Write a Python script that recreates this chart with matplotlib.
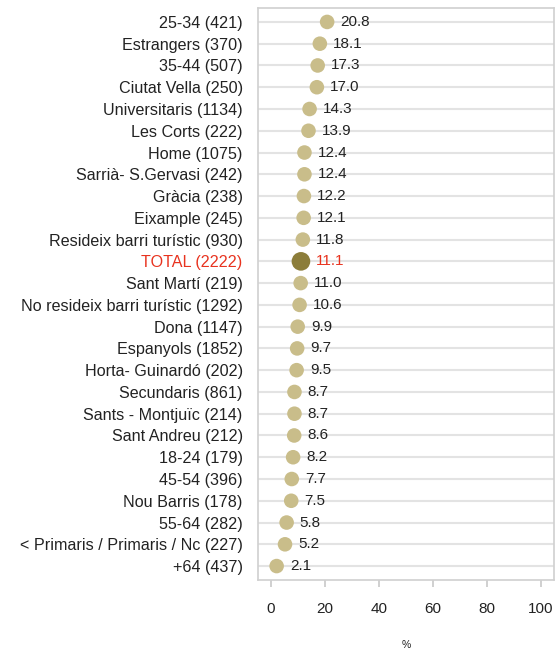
import matplotlib.pyplot as plt

# Categories (top to bottom) and values in %
categories = [
    "25-34 (421)", "Estrangers (370)", "35-44 (507)", "Ciutat Vella (250)",
    "Universitaris (1134)", "Les Corts (222)", "Home (1075)",
    "Sarrià- S.Gervasi (242)", "Gràcia (238)", "Eixample (245)",
    "Resideix barri turístic (930)", "TOTAL (2222)", "Sant Martí (219)",
    "No resideix barri turístic (1292)", "Dona (1147)", "Espanyols (1852)",
    "Horta- Guinardó (202)", "Secundaris (861)", "Sants - Montjuïc (214)",
    "Sant Andreu (212)", "18-24 (179)", "45-54 (396)", "Nou Barris (178)",
    "55-64 (282)", "< Primaris / Primaris / Nc (227)", "+64 (437)",
]
values = [20.8, 18.1, 17.3, 17.0, 14.3, 13.9, 12.4, 12.4, 12.2, 12.1, 11.8,
          11.1, 11.0, 10.6, 9.9, 9.7, 9.5, 8.7, 8.7, 8.6, 8.2, 7.7, 7.5, 5.8,
          5.2, 2.1]
total_label = "TOTAL (2222)"
x_ticks = [0, 20, 40, 60, 80, 100]

plt.rcParams['font.family'] = ['Liberation Sans', 'DejaVu Sans']

dot_color = '#c9bd8a'
total_color = '#8c7d3a'
grid_color = '#e3e3e3'
red = '#e8331f'

fig = plt.figure(figsize=(5.55, 6.5), dpi=100)
ax = fig.add_axes([258 / 555, 1 - 580 / 650, 296 / 555, 572 / 650])

ypos = list(range(len(categories)))
for y in ypos:
    ax.axhline(y, color=grid_color, lw=1.5, zorder=1)

colors = [total_color if c == total_label else dot_color for c in categories]
sizes = [180 if c == total_label else 110 for c in categories]
ax.scatter(values, ypos, s=sizes, c=colors, zorder=3, linewidths=0)

# value labels next to the dots
for v, y, c in zip(values, ypos, categories):
    off = 11 if c == total_label else 9.5
    ax.annotate(f"{v:.1f}", (v, y), xytext=(off, 0), textcoords='offset points',
                va='center', ha='left', fontsize=11,
                color=red if c == total_label else '#222222', zorder=4)

ax.set_ylim(len(categories) - 1 + 0.64, -0.64)
ax.set_xlim(-4.8, 104.8)
ax.set_yticks(ypos)
ax.set_yticklabels(categories, fontsize=11.6)
for lbl in ax.get_yticklabels():
    lbl.set_color(red if lbl.get_text() == total_label else '#222222')
ax.tick_params(axis='y', length=0, pad=11)

ax.set_xticks(x_ticks)
ax.set_xticklabels([str(t) for t in x_ticks], fontsize=11, color='#222222')
ax.tick_params(axis='x', length=5, color='#c8c8c8', width=1.2, pad=11,
               direction='out')
for s in ax.spines.values():
    s.set_color('#d0d0d0')
    s.set_linewidth(1.2)

# axis title "%" sits well below the tick labels
fig.text(406 / 555, 1 - 645 / 650, '%', ha='center', va='center',
         fontsize=7.5, color='#222222')

fig.savefig('out.png', dpi=100)
